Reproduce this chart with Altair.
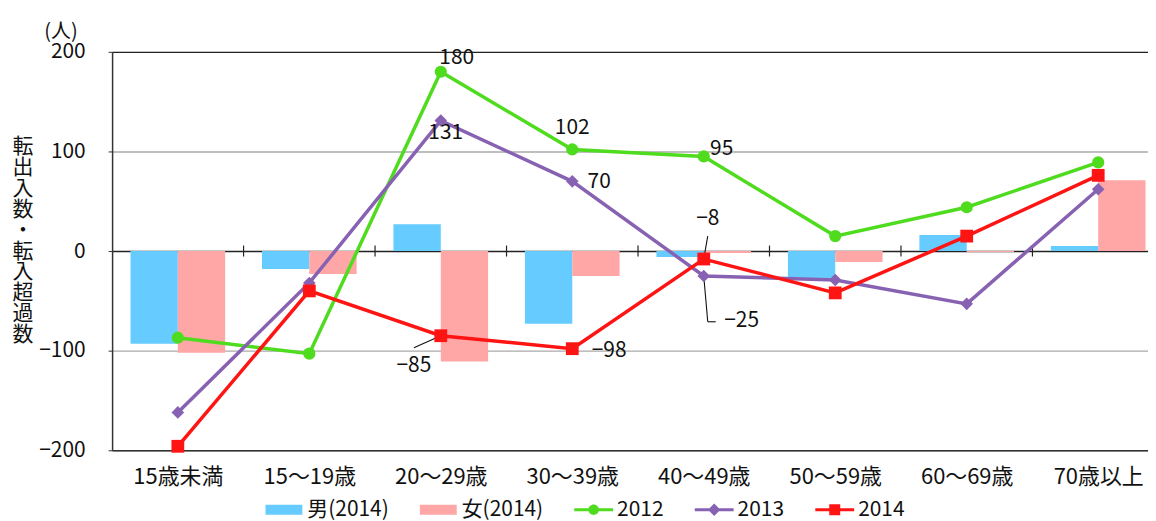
import altair as alt
import pandas as pd

FONT = "Noto Sans CJK JP"

# ---------------- data ----------------
categories = ["15歳未満", "15～19歳", "20～29歳", "30～39歳", "40～49歳", "50～59歳", "60～69歳", "70歳以上"]
series_names = ["男(2014)", "女(2014)", "2012", "2013", "2014"]
male_2014 = [-93, -18, 27, -73, -6, -27, 16, 5]
female_2014 = [-102, -23, -111, -25, -2, -11, -1, 71]
v2012 = [-87, -103, 180, 102, 95, 15, 44, 89]
v2013 = [-162, -32, 131, 70, -25, -29, -53, 62]
v2014 = [-196, -40, -85, -98, -8, -42, 15, 76]
y_ticks = [-200, -100, 0, 100, 200]
y_title_lines = ["転", "出", "入", "数", "・", "転", "入", "超", "過", "数"]
unit_label = "(人)"

# ---------------- styles ----------------
COLORS = ["#66CCFF", "#FFA6A6", "#4FDB1E", "#8862B2", "#FF1414"]
PLOT_W = 1040
PLOT_H = 400
CAT_PX = 132
X_MAX = PLOT_W / CAT_PX
BAR_W = 0.36

# legend symbols (custom paths, unit = sqrt(symbolSize)/2)
P_BAR = "M-1.85,-0.5H1.85V0.5H-1.85Z"
LINE = "M-1.95,-0.15H1.95V0.15H-1.95Z"
P_2012 = LINE + " M-0.52,0A0.52,0.52 0 1 1 0.52,0A0.52,0.52 0 1 1 -0.52,0Z"
P_2013 = LINE + " M0,-0.62L0.62,0L0,0.62L-0.62,0Z"
P_2014 = LINE + " M-0.55,-0.55H0.55V0.55H-0.55Z"
PATHS = [P_BAR, P_BAR, P_2012, P_2013, P_2014]


def frame(series, values):
    df = pd.DataFrame({"i": list(range(len(categories))), "category": categories,
                       "series": series, "value": values})
    df["xc"] = df["i"] + 0.5
    return df


male_df = frame(series_names[0], male_2014)
male_df["x0"] = male_df["xc"] - BAR_W
male_df["x1"] = male_df["xc"]
female_df = frame(series_names[1], female_2014)
female_df["x0"] = female_df["xc"]
female_df["x1"] = female_df["xc"] + BAR_W

line_series = {"2012": v2012, "2013": v2013, "2014": v2014}

x_scale = alt.Scale(domain=[0, X_MAX], nice=False, zero=False)
y_scale = alt.Scale(domain=[-200, 200], nice=False, zero=False)

label_expr = "[" + ",".join(f"'{c}'" for c in categories) + "][floor(datum.value)]"
x_axis = alt.Axis(values=[i + 0.5 for i in range(len(categories))], labelExpr=label_expr,
                  ticks=False, grid=False, domainColor="#333333", domainWidth=1.5,
                  labelFontSize=22, labelFont=FONT, labelColor="#111111", labelPadding=16,
                  labelOverlap=False, title=None)
y_axis = alt.Axis(values=y_ticks, grid=True,
                  gridColor=alt.condition("datum.value == 0 || datum.value == 200",
                                          alt.value("#222222"), alt.value("#AAAAAA")),
                  gridWidth=1.4, domainColor="#333333", domainWidth=1.5,
                  tickColor="#333333", tickSize=4, labelFontSize=21, labelFont=FONT,
                  labelColor="#111111", labelPadding=23,
                  title=y_title_lines, titleAngle=0, titleX=-90, titleY=84,
                  titleAlign="center", titleBaseline="top", titleFontSize=21,
                  titleLineHeight=21, titleFont=FONT, titleFontWeight="normal",
                  titleColor="#111111")

X = lambda f: alt.X(f, scale=x_scale, axis=x_axis)
Y = lambda f: alt.Y(f, scale=y_scale, axis=y_axis)

layers = []
for df, col in [(male_df, COLORS[0]), (female_df, COLORS[1])]:
    layers.append(alt.Chart(df).mark_bar(color=col).encode(
        x=X("x0:Q"), x2="x1:Q", y=Y("value:Q"), y2=alt.datum(0)))

# category boundary ticks on the zero line
tick_df = pd.DataFrame({"b": list(range(1, len(categories)))})
layers.append(alt.Chart(tick_df).mark_rule(color="#222222", strokeWidth=1.2, yOffset=-5.5, y2Offset=5.5).encode(
    x=X("b:Q"), y=alt.datum(0), y2=alt.datum(0)))

# leader lines (pixel offsets from the data point)
leaders = [
    ("2014", 2, dict(x2Offset=-27, y2Offset=12)),
    ("2014", 4, dict(x2Offset=4, y2Offset=-23)),
    ("2013", 4, dict(x2Offset=4, y2Offset=46)),
    ("2013", 4, dict(xOffset=4, yOffset=46, x2Offset=12, y2Offset=46)),
]
for s, idx, offs in leaders:
    d = frame(s, line_series[s]).iloc[[idx]]
    layers.append(alt.Chart(d).mark_rule(color="#111111", strokeWidth=1.1, **offs).encode(
        x=X("xc:Q"), x2="xc:Q", y=Y("value:Q"), y2="value:Q"))

marker = {"2012": ("circle", 150), "2013": ("diamond", 160), "2014": ("square", 165)}
for k, s in enumerate(["2012", "2013", "2014"]):
    d = frame(s, line_series[s])
    col = COLORS[2 + k]
    layers.append(alt.Chart(d).mark_line(color=col, strokeWidth=3.5).encode(
        x=X("xc:Q"), y=Y("value:Q")))
    shp, sz = marker[s]
    layers.append(alt.Chart(d).mark_point(shape=shp, filled=True, size=sz, color=col, opacity=1).encode(
        x=X("xc:Q"), y=Y("value:Q")))

# data labels: (series, category index, dx, dy)
labels = [
    ("2012", 2, 16, -14), ("2013", 2, 5, 13), ("2012", 3, 0, -22), ("2012", 4, 18, -7),
    ("2013", 3, 27, 1), ("2014", 2, -27, 30), ("2014", 3, 37, 2), ("2014", 4, 4, -40),
    ("2013", 4, 38, 45),
]
for s, idx, dx, dy in labels:
    d = frame(s, line_series[s]).iloc[[idx]].copy()
    d["txt"] = d["value"].map(lambda v: str(v).replace("-", "−"))
    layers.append(alt.Chart(d).mark_text(dx=dx, dy=dy, fontSize=21, font=FONT, color="#111111",
                                         align="center", baseline="middle").encode(
        x=X("xc:Q"), y=Y("value:Q"), text="txt:N"))

# legend layer (no marks drawn)
leg = alt.Legend(title=None, orient="none", legendX=162, legendY=449, direction="horizontal",
                 columns=5, symbolSize=400, symbolStrokeWidth=0, symbolOpacity=1,
                 labelFontSize=21, labelFont=FONT, labelColor="#111111", labelOffset=13,
                 columnPadding=31, padding=0)
legend_df = pd.DataFrame({"series": series_names})
layers.append(alt.Chart(legend_df).transform_filter("false").mark_point(filled=True).encode(
    x=X("xc:Q"), y=Y("value:Q"),
    color=alt.Color("series:N", scale=alt.Scale(domain=series_names, range=COLORS), legend=leg),
    shape=alt.Shape("series:N", scale=alt.Scale(domain=series_names, range=PATHS), legend=leg)))

chart = alt.layer(*layers).properties(
    width=PLOT_W, height=PLOT_H,
    padding={"left": 3.5, "top": 13, "right": 0, "bottom": 0},
    title=alt.TitleParams(unit_label, anchor="start", frame="group", dx=-68, fontSize=20,
                          fontWeight="normal", font=FONT, color="#111111", offset=-21,
                          baseline="bottom"),
).configure_view(stroke=None).configure(background="white")

chart.save("out.html", embed_options={"renderer": "svg", "actions": False})
